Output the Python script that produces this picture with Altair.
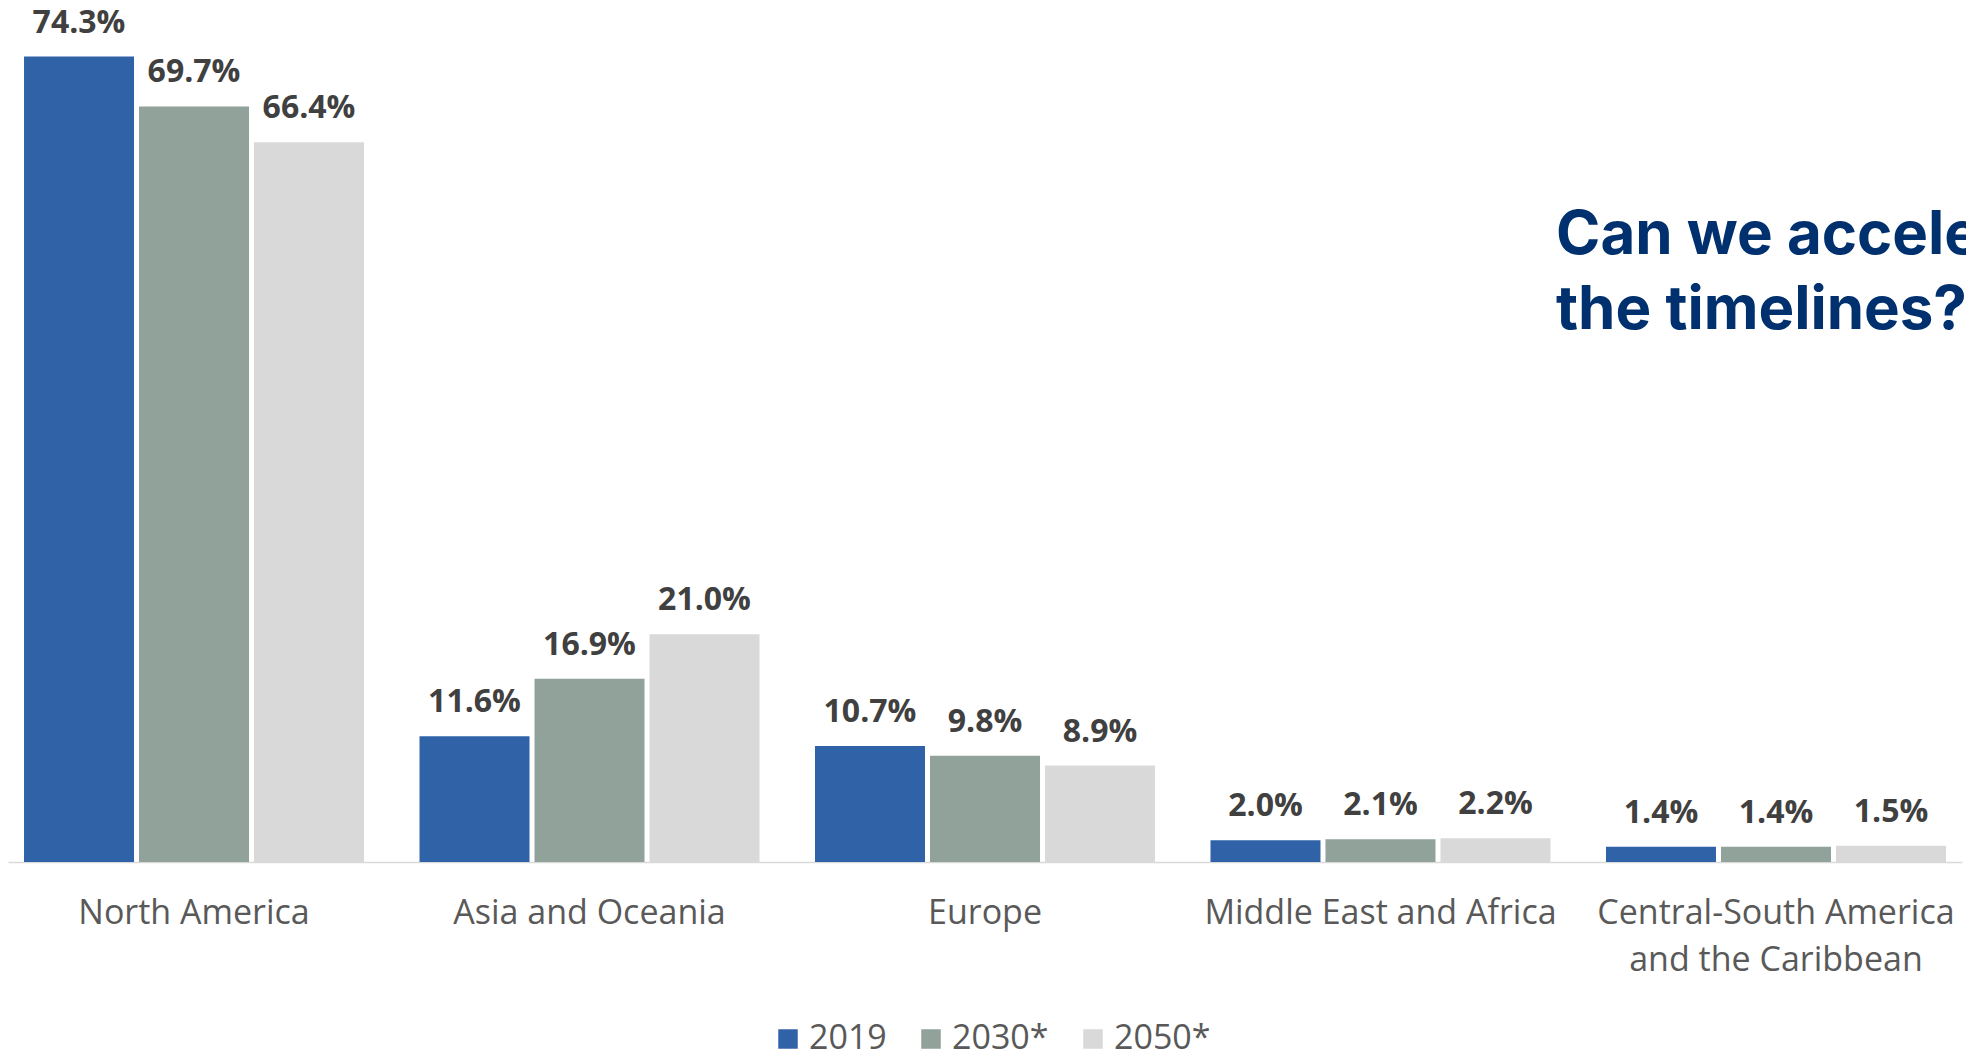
import altair as alt
import pandas as pd

# ---- data ----
regions = ["North America", "Asia and Oceania", "Europe",
           "Middle East and Africa", "Central-South America and the Caribbean"]
years = ["2019", "2030*", "2050*"]
share_2019 = [74.3, 11.6, 10.7, 2.0, 1.4]
share_2030 = [69.7, 16.9, 9.8, 2.1, 1.4]
share_2050 = [66.4, 21.0, 8.9, 2.2, 1.5]
colors = ["#3062A8", "#90A29A", "#D9D9D9"]
title_line_1 = "Can we accelerate"
title_line_2 = "the timelines?"

rows = []
for series, vals in zip(years, [share_2019, share_2030, share_2050]):
    for r, v in zip(regions, vals):
        rows.append({"region": r, "year": series, "value": v, "label": f"{v:.1f}%"})
df = pd.DataFrame(rows)

x_enc = alt.X("region:N", sort=regions,
              scale=alt.Scale(paddingInner=0.1403, paddingOuter=0.0405, round=False),
              axis=alt.Axis(title=None, labelAngle=0, domain=True, domainColor="#D9D9D9",
                            domainWidth=1.5, ticks=False, tickSize=0,
                            grid=False, labelFont="Open Sans", labelFontSize=34,
                            labelColor="#595959", labelPadding=34, labelLimit=0,
                            labelLineHeight=47,
                            labelExpr="datum.label == 'Central-South America and the Caribbean' ? ['Central-South America', 'and the Caribbean'] : datum.label"))
xo_enc = alt.XOffset("year:N", sort=years,
                     scale=alt.Scale(paddingInner=0.0435, paddingOuter=0, round=False))
y_enc = alt.Y("value:Q", scale=alt.Scale(domain=[0, 78.78], nice=False, zero=True), axis=None)

base = alt.Chart(df)

bars = base.mark_bar().encode(
    x=x_enc, xOffset=xo_enc, y=y_enc,
    color=alt.Color("year:N", sort=years,
                    scale=alt.Scale(domain=years, range=colors),
                    legend=alt.Legend(orient="none", legendX=763, legendY=1014,
                                      direction="horizontal", title=None,
                                      symbolType="square", symbolSize=380,
                                      symbolStrokeWidth=0, labelFont="Open Sans",
                                      labelFontSize=34, labelColor="#595959",
                                      labelOffset=4, columnPadding=27, padding=0)),
)

labels = base.mark_text(font="Open Sans", fontWeight="bold", fontSize=32,
                        color="#404040", dy=-24, baseline="alphabetic", align="center").encode(
    x=x_enc, xOffset=xo_enc, y=y_enc, text="label:N"
)

t1 = alt.Chart(pd.DataFrame({"t": [title_line_1]})).mark_text(
    font="Inter", fontWeight="bold", fontSize=60, color="#00306E",
    align="left", baseline="alphabetic"
).encode(text="t:N", x=alt.value(1548), y=alt.value(246))

t2 = alt.Chart(pd.DataFrame({"t": [title_line_2]})).mark_text(
    font="Inter", fontWeight="bold", fontSize=60, color="#00306E",
    align="left", baseline="alphabetic"
).encode(text="t:N", x=alt.value(1548), y=alt.value(321))

chart = alt.layer(bars, labels, t1, t2).properties(
    width=1954, height=854,
    autosize=alt.AutoSizeParams(type="none"),
    padding={"left": 0, "top": 0, "right": 4, "bottom": 192},
    background="white",
).configure_view(stroke=None)

chart.save("out.html", embed_options={"renderer": "svg", "actions": False})
